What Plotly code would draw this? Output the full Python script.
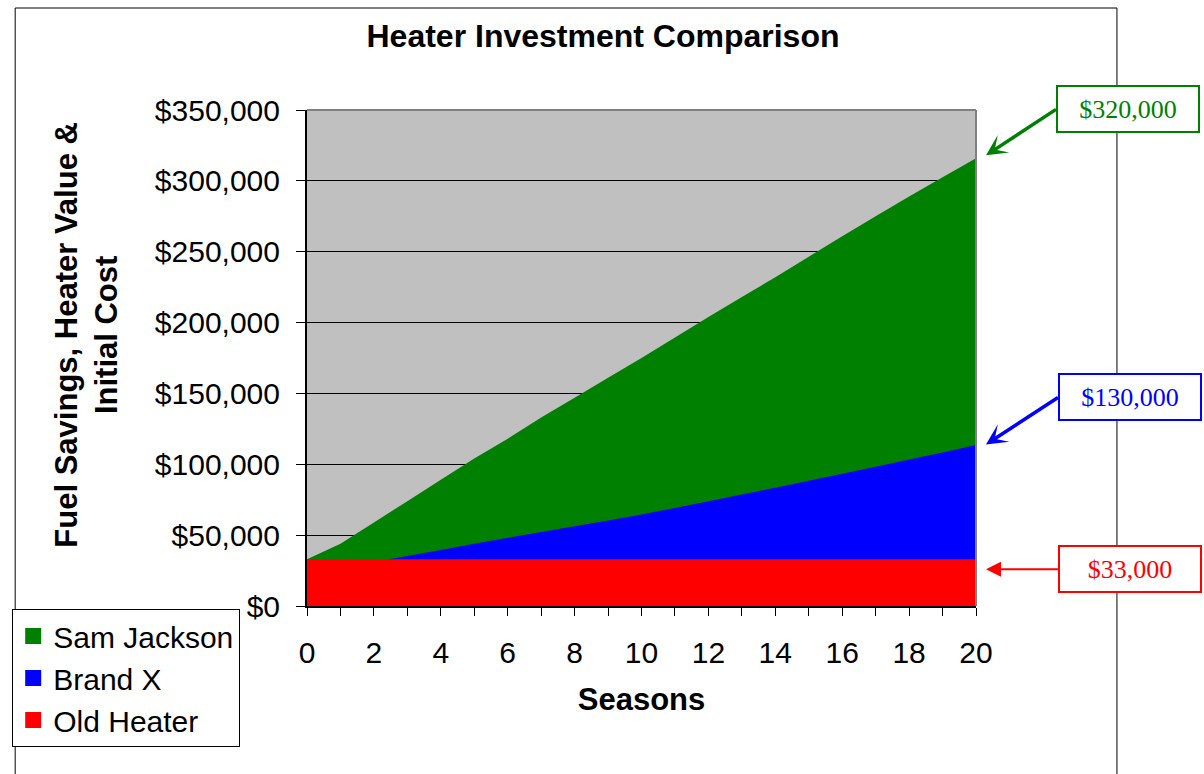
import plotly.graph_objects as go

seasons = [0, 1, 2, 3, 4, 5, 6, 7, 8, 9, 10, 11, 12, 13, 14, 15, 16, 17, 18, 19, 20]
sam_jackson = [33000, 44000, 59000, 74000, 89000, 104000, 118000, 133000, 147000, 161000,
               175000, 189500, 204000, 218000, 232000, 246500, 261000, 275000, 289000, 302500, 316000]
brand_x = [22000, 26500, 31000, 35200, 39500, 44000, 48200, 52300, 56300, 60400,
           64600, 69200, 73900, 78700, 83500, 88400, 93300, 98300, 103300, 108400, 113600]
old_heater = [33000, 33000, 33000, 33000, 33000, 33000, 33000, 33000, 33000, 33000,
              33000, 33000, 33000, 33000, 33000, 33000, 33000, 33000, 33000, 33000, 33000]

series_names = ["Sam Jackson", "Brand X", "Old Heater"]
series_colors = ["#008000", "#0000FF", "#FF0000"]
callout_labels = ["$320,000", "$130,000", "$33,000"]
callout_targets = [318000, 114000, 26000]

x_tick_vals = [0, 2, 4, 6, 8, 10, 12, 14, 16, 18, 20]
y_tick_vals = [0, 50000, 100000, 150000, 200000, 250000, 300000, 350000]
y_tick_text = ["$0", "$50,000", "$100,000", "$150,000", "$200,000", "$250,000", "$300,000", "$350,000"]

SANS = "Liberation Sans, Arial, sans-serif"
SERIF = "Liberation Serif, Times New Roman, serif"

# plot area in pixels
L, R, T, B = 302, 976, 110, 606
W, H = 1204, 774


def px_x(p):
    return (p - L) / (R - L)


def px_y(p):
    return (B - p) / (B - T)


fig = go.Figure()
for name, vals, col in zip(series_names, [sam_jackson, brand_x, old_heater], series_colors):
    fig.add_trace(go.Scatter(x=seasons, y=vals, mode="none", fill="tozeroy",
                             fillcolor=col, name=name, showlegend=False,
                             legendgroup=name, hoverinfo="x+y+name"))
for name, col in zip(series_names, series_colors):
    fig.add_trace(go.Scatter(x=[None], y=[None], mode="markers", name=name,
                             legendgroup=name,
                             marker=dict(symbol="square", size=16, color=col)))

shapes = [
    # outer chart frame
    dict(type="rect", xref="paper", yref="paper",
         x0=px_x(8), x1=px_x(1118), y0=px_y(8), y1=px_y(820),
         line=dict(color="#000000", width=1), fillcolor="rgba(0,0,0,0)", layer="below"),
    # plot area top/right border
    dict(type="line", xref="paper", yref="paper", x0=0, x1=1, y0=1, y1=1,
         line=dict(color="#808080", width=2), layer="above"),
    dict(type="line", xref="paper", yref="paper", x0=1, x1=1, y0=0, y1=1,
         line=dict(color="#808080", width=2), layer="above"),
]

annotations = [
    dict(text="<b>Fuel Savings, Heater Value &<br>Initial Cost</b>",
         xref="paper", yref="paper", x=px_x(79), y=px_y(335),
         textangle=-90, showarrow=False, xanchor="center", yanchor="middle",
         font=dict(family=SANS, size=31, color="#000000")),
]
heads = [3, 3, 2]
widths = [3.5, 3.5, 2]
sizes = [1.0, 1.0, 1.5]
offsets = [(70, -46), (72, -47), (72, 0)]
for lab, tgt, col, hd, aw, asz, (ax, ay) in zip(callout_labels, callout_targets, series_colors,
                                                 heads, widths, sizes, offsets):
    annotations.append(dict(
        text=lab, x=seasons[-1], y=tgt, xref="x", yref="y", ax=ax, ay=ay, xshift=10,
        showarrow=True, arrowhead=hd, arrowwidth=aw, arrowsize=asz, arrowcolor=col,
        xanchor="left", yanchor="middle",
        font=dict(family=SERIF, size=26, color=col),
        bordercolor=col, borderwidth=2, borderpad=1, bgcolor="#FFFFFF",
        width=138, height=42, align="center"))

fig.update_layout(
    width=W, height=H,
    margin=dict(l=L, r=W - R, t=T, b=H - B, pad=0),
    paper_bgcolor="#FFFFFF", plot_bgcolor="#C0C0C0",
    font=dict(family=SANS, size=30, color="#000000"),
    title=dict(text="<b>Heater Investment Comparison</b>", x=603 / W, xref="container",
               y=1 - 36 / H, yref="container", xanchor="center", yanchor="middle",
               font=dict(family=SANS, size=32, color="#000000")),
    showlegend=True,
    legend=dict(x=px_x(5), y=px_y(609), xanchor="left", yanchor="top",
                bgcolor="#FFFFFF", bordercolor="#000000", borderwidth=1,
                font=dict(family=SANS, size=30, color="#000000"),
                tracegroupgap=2,
                traceorder="normal", itemclick=False, itemdoubleclick=False),
    shapes=shapes, annotations=annotations,
)
fig.update_xaxes(range=[0, 20], tickvals=x_tick_vals, ticks="outside", ticklen=8,
                 tickcolor="#000000", showline=True, linecolor="#000000", linewidth=2,
                 showgrid=False, zeroline=False, ticklabelstandoff=11,
                 minor=dict(dtick=1, ticks="outside", ticklen=8, tickcolor="#000000", showgrid=False),
                 tickfont=dict(family=SANS, size=30, color="#000000"),
                 title=dict(text="<b>Seasons</b>", standoff=20,
                            font=dict(family=SANS, size=31, color="#000000")))
fig.update_yaxes(range=[0, 350000], tickvals=y_tick_vals, ticktext=y_tick_text,
                 ticks="outside", ticklen=9, tickcolor="#000000", showline=True,
                 linecolor="#000000", linewidth=2, showgrid=True, gridcolor="#000000",
                 gridwidth=1, zeroline=False, ticklabelstandoff=10,
                 tickfont=dict(family=SANS, size=30, color="#000000"))

fig.write_html("out.html", config={"displayModeBar": False},
               post_script="document.body.style.margin='0px';")
